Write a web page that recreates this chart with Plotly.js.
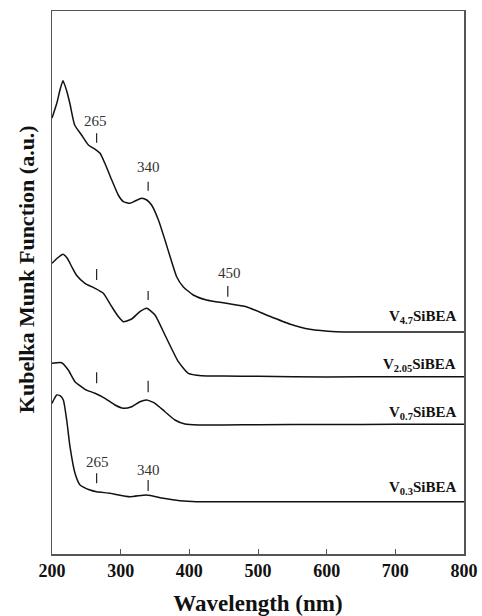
<!DOCTYPE html>
<html>
<head>
<meta charset="utf-8">
<script src="https://cdn.plot.ly/plotly-3.0.1.min.js"></script>
<style>html,body{margin:0;padding:0;background:#fff;}#chart{width:482px;height:616px;}</style>
</head>
<body>
<div id="chart"></div>
<script>
// Wavelength (nm) and Kubelka-Munk values (a.u., stacked offsets)
var v47_nm = [200, 207, 211.6, 216, 221, 226, 233, 243, 253, 263, 270, 277, 287, 296.5, 304, 313.5, 321, 330.5, 338, 345, 355, 364.5, 372, 381.5, 391, 405.7, 425, 454, 483, 512.5, 546, 575.5, 614, 650, 700, 750, 800];
var v47_km = [436, 450.7, 464, 473.3, 464, 450.7, 429, 419, 409, 404.7, 400.7, 390.7, 374, 359, 352.3, 350.7, 353, 355.7, 354, 349, 334, 314, 297.3, 277.3, 267.3, 259, 254, 250.7, 247.3, 239, 230, 224.7, 222.3, 222, 222, 222, 222];

var v205_nm = [200, 208, 216, 222, 229, 236, 248, 262.6, 274.7, 287, 296, 304, 316, 328, 338, 350, 364.5, 384, 398.5, 418, 450, 500, 600, 700, 800];
var v205_km = [290.7, 296, 299.7, 296, 287, 278.5, 270.7, 265.7, 260.7, 247.3, 238, 232.3, 235, 242.3, 245.7, 239, 219, 192.3, 180.7, 178.3, 178, 177.7, 177, 177.3, 177.3];

var v07_nm = [200, 214, 223.7, 233.5, 248, 262.6, 277, 291.7, 304, 316, 328, 338, 350, 364.5, 379, 393.6, 413, 500, 600, 700, 800];
var v07_km = [190.7, 191.3, 184, 172.3, 164.7, 160.7, 155.7, 149, 145.7, 147.3, 152.3, 154, 150.7, 142.3, 134, 130, 129, 129.3, 129.5, 129.7, 129.7];

var v03_nm = [200, 203.5, 206.8, 211.6, 216.5, 221.4, 226.2, 233.5, 240.8, 255.3, 265, 284.4, 313.5, 337.8, 362, 386.3, 410.6, 500, 600, 700, 800];
var v03_km = [150.7, 155.5, 159, 158.3, 154, 134, 107.3, 80.7, 69, 64, 62.3, 60.7, 57.3, 59, 55.7, 53.3, 52.3, 52.3, 52.3, 52.3, 52.3];

var seriesNames = ['V<sub>4.7</sub>SiBEA', 'V<sub>2.05</sub>SiBEA', 'V<sub>0.7</sub>SiBEA', 'V<sub>0.3</sub>SiBEA'];
var seriesLabelY = [237, 189.5, 141, 66];

// band marks: wavelength, lower end, upper end
var markNm  = [265, 340, 456, 265, 340, 265, 340, 265, 340];
var markLo  = [411.3, 363.3, 257.3, 274, 254, 170.7, 161.7, 70.7, 63];
var markHi  = [420.7, 372.3, 268, 285, 263, 181.7, 173.3, 80.7, 74];

// band labels
var bandText = ['265', '340', '450', '265', '340'];
var bandNm   = [263, 340, 459, 266, 340];
var bandY    = [433, 387.3, 281, 91.7, 84];

var xTicks = [200, 300, 400, 500, 600, 700, 800];

var SERIF = '"Liberation Serif", "Times New Roman", Times, serif';
var lineStyle = {color: '#111', width: 1.5, shape: 'spline', smoothing: 0.5};
var traces = [
  {x: v47_nm, y: v47_km, mode: 'lines', line: lineStyle, hoverinfo: 'skip'},
  {x: v205_nm, y: v205_km, mode: 'lines', line: lineStyle, hoverinfo: 'skip'},
  {x: v07_nm, y: v07_km, mode: 'lines', line: lineStyle, hoverinfo: 'skip'},
  {x: v03_nm, y: v03_km, mode: 'lines', line: lineStyle, hoverinfo: 'skip'}
];

var mx = [], my = [];
for (var i = 0; i < markNm.length; i++) {
  mx.push(markNm[i], markNm[i], null);
  my.push(markLo[i], markHi[i], null);
}
traces.push({x: mx, y: my, mode: 'lines', line: {color: '#222', width: 1.2}, hoverinfo: 'skip'});

var annotations = [];
for (var j = 0; j < bandText.length; j++) {
  annotations.push({x: bandNm[j], y: bandY[j], xref: 'x', yref: 'y', text: bandText[j], showarrow: false,
    font: {family: SERIF, size: 15, color: '#333'}, xanchor: 'center', yanchor: 'middle'});
}
for (var k = 0; k < seriesNames.length; k++) {
  annotations.push({x: 791, y: seriesLabelY[k], xref: 'x', yref: 'y', text: seriesNames[k], showarrow: false,
    font: {family: SERIF, size: 15, color: '#111', weight: 'bold'}, xanchor: 'right', yanchor: 'middle'});
}
annotations.push({x: -0.06, y: 0.525, xref: 'paper', yref: 'paper', text: 'Kubelka Munk Function (a.u.)', textangle: -90,
  showarrow: false, font: {family: SERIF, size: 22, color: '#111', weight: 'bold'}, xanchor: 'center', yanchor: 'middle'});

var layout = {
  width: 482, height: 616,
  margin: {l: 52, r: 18, t: 11, b: 62},
  paper_bgcolor: '#fff', plot_bgcolor: '#fff',
  showlegend: false,
  font: {family: SERIF},
  xaxis: {
    range: [200, 800], tickvals: xTicks, ticktext: xTicks.map(String),
    ticks: 'inside', ticklen: 5, tickcolor: '#555', tickwidth: 1,
    showline: true, linecolor: '#555', linewidth: 1.5, mirror: true, showgrid: false, zeroline: false,
    tickfont: {family: SERIF, size: 18, color: '#111', weight: 'bold'},
    title: {text: 'Wavelength (nm)', font: {family: SERIF, size: 23, color: '#111', weight: 'bold'}, standoff: 17}
  },
  yaxis: {
    range: [0, 543], showticklabels: false, ticks: '',
    showline: true, linecolor: '#555', linewidth: 1.5, mirror: true, showgrid: false, zeroline: false
  },
  annotations: annotations
};

Plotly.newPlot('chart', traces, layout, {displayModeBar: false, staticPlot: true});
</script>
</body>
</html>
